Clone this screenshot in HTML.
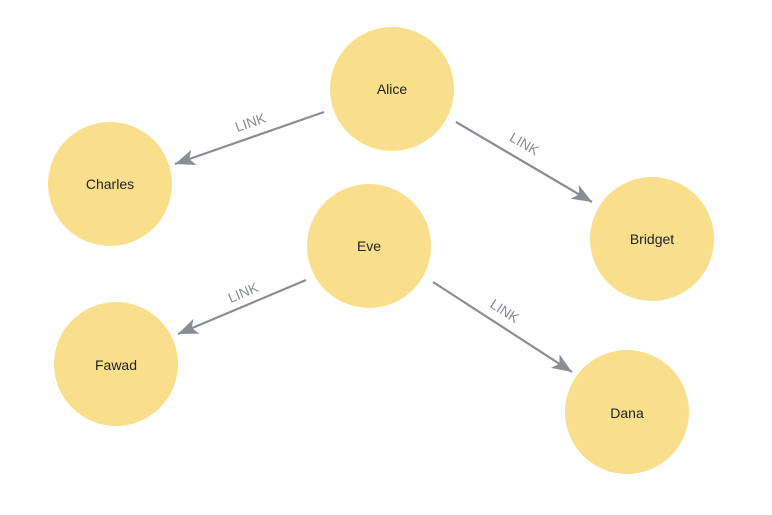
<!DOCTYPE html>
<html><head><meta charset="utf-8"><style>
html,body{margin:0;padding:0;background:#fff;width:772px;height:515px;overflow:hidden}
svg{display:block}
text{font-family:"Liberation Sans",sans-serif}
</style></head><body>
<svg width="772" height="515" viewBox="0 0 772 515">
<defs>
<marker id="a" markerWidth="22" markerHeight="18" refX="20" refY="8" orient="auto" markerUnits="userSpaceOnUse">
<path d="M20,8 L0,0 L5,8 L0,16 Z" fill="#8a8d94"/>
</marker>
</defs>
<g fill="#f9de8c">
<circle cx="392" cy="89" r="62"/>
<circle cx="110" cy="184" r="62"/>
<circle cx="369" cy="246" r="62"/>
<circle cx="652" cy="239" r="62"/>
<circle cx="116" cy="364" r="62"/>
<circle cx="627" cy="412" r="62"/>
</g>
<g stroke="#8a8d94" stroke-width="2.2" fill="none">
<line x1="324" y1="112" x2="175" y2="164" marker-end="url(#a)"/>
<line x1="456" y1="122" x2="592" y2="202" marker-end="url(#a)"/>
<line x1="306" y1="280" x2="178" y2="334" marker-end="url(#a)"/>
<line x1="433" y1="282" x2="572" y2="372" marker-end="url(#a)"/>
</g>
<g fill="#8a8d94" font-size="14" text-anchor="middle">
<text transform="translate(252,127) rotate(-19)">LINK</text>
<text transform="translate(522,148) rotate(30)">LINK</text>
<text transform="translate(245,297) rotate(-23)">LINK</text>
<text transform="translate(502,315) rotate(33)">LINK</text>
</g>
<g fill="#222" font-size="14" text-anchor="middle">
<text x="392" y="94">Alice</text>
<text x="110" y="189">Charles</text>
<text x="369" y="251">Eve</text>
<text x="652" y="244">Bridget</text>
<text x="116" y="370">Fawad</text>
<text x="627" y="418">Dana</text>
</g>
</svg>
</body></html>
